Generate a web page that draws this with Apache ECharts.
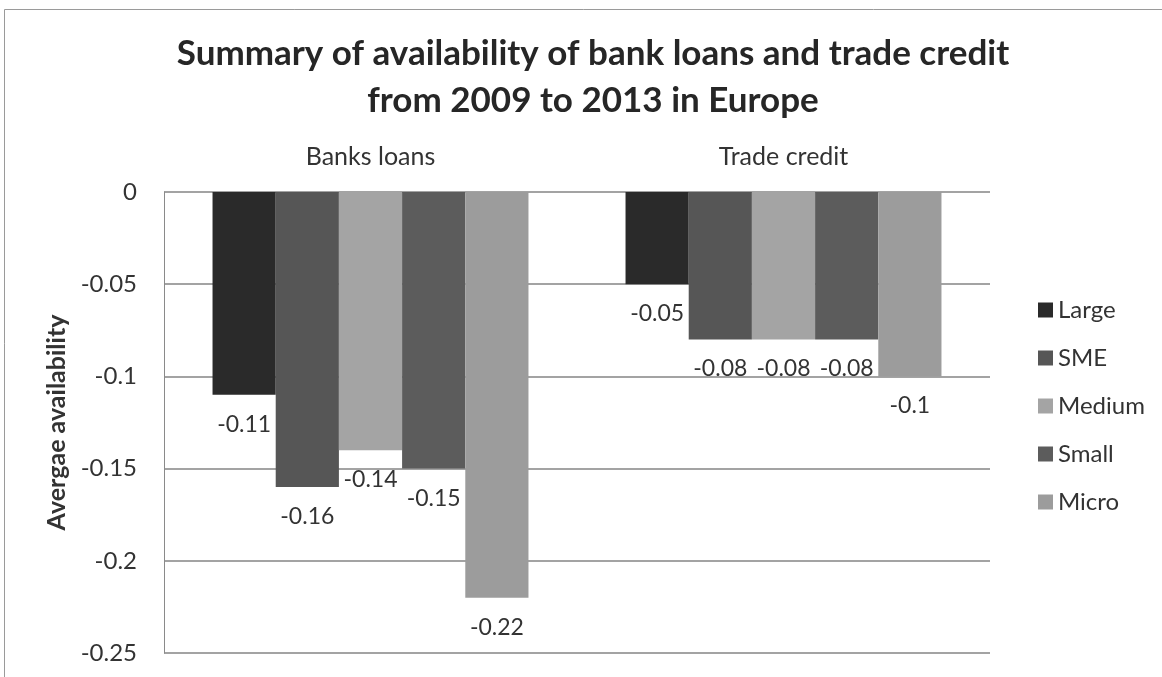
<!DOCTYPE html>
<html>
<head>
<meta charset="utf-8">
<script src="https://cdn.jsdelivr.net/npm/echarts@6/dist/echarts.min.js"></script>
<style>
  html, body { margin: 0; padding: 0; background: #fff; }
  #chart { width: 1162px; height: 677px; }
</style>
</head>
<body>
<div id="chart"></div>
<script>
// Loan categories along the top axis
const categories = ['Banks loans', 'Trade credit'];

// Average availability per firm size, one value per category
const largeValues  = [-0.11, -0.05];
const smeValues    = [-0.16, -0.08];
const mediumValues = [-0.14, -0.08];
const smallValues  = [-0.15, -0.08];
const microValues  = [-0.22, -0.10];

const seriesNames = ['Large', 'SME', 'Medium', 'Small', 'Micro'];
const seriesValues = [largeValues, smeValues, mediumValues, smallValues, microValues];
const seriesColors = ['#2a2a2a', '#565656', '#a4a4a4', '#5c5c5c', '#9c9c9c'];

const FONT = 'Lato, "Open Sans", sans-serif';

const chart = echarts.init(document.getElementById('chart'), null, { renderer: 'canvas' });

chart.setOption({
  backgroundColor: '#ffffff',
  animation: false,
  title: {
    text: 'Summary of availability of bank loans and trade credit\nfrom 2009 to 2013 in Europe',
    left: 588,
    top: 25,
    textAlign: 'center',
    textStyle: {
      fontFamily: FONT,
      fontWeight: 'bold',
      fontSize: 35,
      lineHeight: 47,
      color: '#262626'
    }
  },
  graphic: [{
    type: 'rect',
    silent: true,
    shape: { x: 4.5, y: 9.5, width: 1180, height: 700 },
    style: { fill: 'none', stroke: '#9a9a9a', lineWidth: 1 }
  }],
  legend: {
    orient: 'vertical',
    left: 1033,
    top: 293,
    itemWidth: 15,
    itemHeight: 15,
    itemGap: 24,
    icon: 'rect',
    data: seriesNames,
    textStyle: {
      fontFamily: FONT,
      fontSize: 24,
      lineHeight: 24,
      color: '#333',
      padding: [0, 0, 0, 0]
    }
  },
  grid: {
    left: 164,
    right: 172,
    top: 192,
    bottom: 24,
    containLabel: false
  },
  xAxis: {
    type: 'category',
    position: 'top',
    data: categories,
    axisLine: { show: false },
    axisTick: { show: false },
    axisLabel: {
      margin: 23,
      fontFamily: FONT,
      fontSize: 25,
      color: '#333'
    }
  },
  yAxis: {
    type: 'value',
    min: -0.25,
    max: 0,
    interval: 0.05,
    name: 'Avergae availability',
    nameLocation: 'middle',
    nameGap: 94,
    nameRotate: 90,
    nameTextStyle: {
      fontFamily: FONT,
      fontWeight: 'bold',
      fontSize: 25,
      color: '#333'
    },
    axisLine: { show: true, lineStyle: { color: '#8a8a8a', width: 1 } },
    axisTick: { show: false },
    splitLine: { show: true, lineStyle: { color: '#858585', width: 1.5 } },
    axisLabel: {
      margin: 27,
      fontFamily: FONT,
      fontSize: 24,
      color: '#333',
      formatter: function (v) { return String(Math.round(v * 100) / 100); }
    }
  },
  series: seriesNames.map(function (name, i) {
    return {
      name: name,
      type: 'bar',
      data: seriesValues[i],
      barGap: '0%',
      barCategoryGap: '23.5%',
      itemStyle: { color: seriesColors[i] },
      label: {
        show: true,
        position: 'bottom',
        distance: 18,
        fontFamily: FONT,
        fontSize: 23,
        color: '#333',
        formatter: function (p) { return String(p.value); }
      }
    };
  })
});
</script>
</body>
</html>
